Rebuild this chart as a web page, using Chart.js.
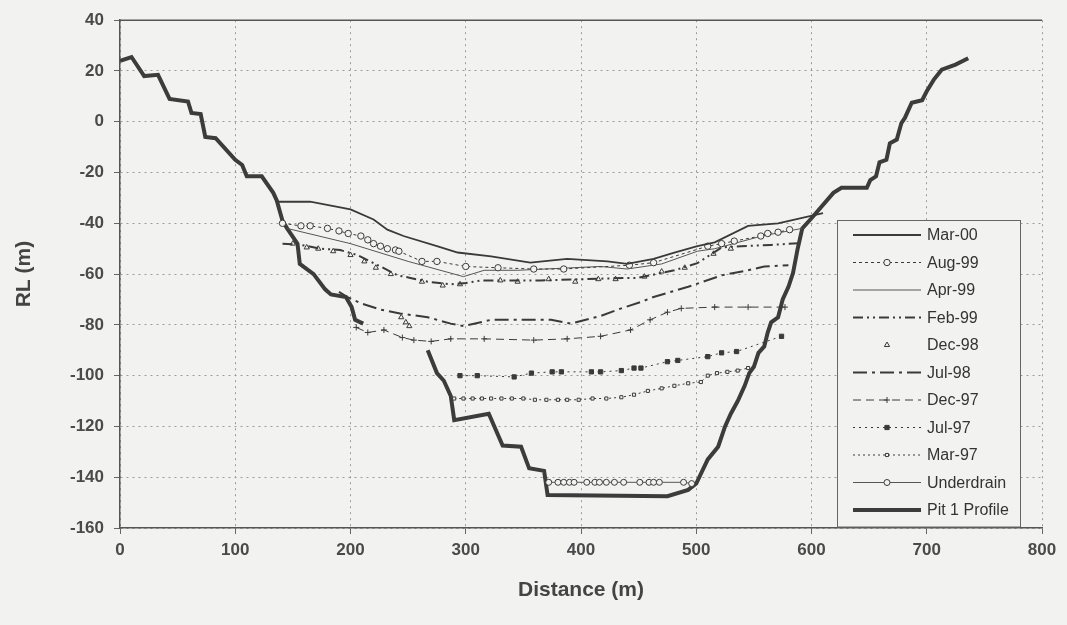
<!DOCTYPE html>
<html>
<head>
<meta charset="utf-8">
<script src="https://cdn.jsdelivr.net/npm/chart.js@4.4.1/dist/chart.umd.min.js"></script>
<style>
  html, body { margin: 0; padding: 0; background: #f2f3f1; }
  #wrap { position: relative; width: 1067px; height: 625px; }
</style>
</head>
<body>
<div id="wrap"><canvas id="pitChart"></canvas></div>
<script>
// [distance (m), RL (m)] pairs for each survey
const mar00 = [[136,-31.5],[165,-31.5],[200,-34.5],[220,-38.5],[232,-42.5],[246,-45],[275,-49],[293,-51.5],[322,-53],[356,-55.5],[388,-54],[423,-55],[440,-56],[463,-54],[481,-51.5],[501,-49],[516,-47.5],[545,-41],[571,-40],[591,-38],[610,-36]];
const aug99 = [[141,-40],[157,-41],[165,-41],[180,-42],[190,-43],[198,-44],[209,-45],[215,-46.5],[220,-48],[226,-49],[232,-50],[239,-50.5],[242,-51],[262,-55],[275,-55],[300,-57],[328,-57.5],[359,-58],[385,-58],[442,-56.5],[463,-55.5],[510,-49],[522,-48],[533,-47],[556,-45],[562,-44],[571,-43.5],[581,-42.5]];
const apr99 = [[145,-42],[200,-48],[250,-55],[298,-61],[316,-58.5],[345,-58.5],[417,-57],[440,-58],[470,-56],[501,-51],[516,-50],[557,-45],[580,-43],[592,-42]];
const feb99 = [[141,-48],[157,-48.5],[174,-50],[191,-50.5],[206,-52.5],[217,-55],[226,-57],[241,-60.5],[252,-61.5],[267,-63],[287,-64],[300,-63.5],[313,-62.5],[365,-62.5],[440,-61.5],[449,-61.5],[481,-58.5],[501,-55.7],[522,-49.5],[539,-49],[565,-48.5],[591,-47.8]];
const dec98 = [[150,-48],[162,-49.5],[172,-50],[185,-51],[200,-52.5],[212,-55],[222,-57.5],[235,-60],[244,-77],[248,-79],[251,-80.5],[262,-63],[280,-64.5],[295,-64],[330,-62.5],[345,-63],[372,-62],[395,-63],[415,-62],[430,-62],[455,-61],[470,-59],[490,-57.5],[515,-52],[530,-50]];
const jul98 = [[190,-67],[197,-69],[209,-71.5],[226,-74],[243,-75.5],[267,-77],[287,-79.5],[298,-80.5],[322,-78],[374,-78],[391,-79.5],[417,-76.5],[435,-73.5],[452,-71],[463,-69],[493,-65],[522,-60.5],[545,-58.5],[559,-57],[580,-56.5]];
const dec97 = [[205,-81],[215,-83],[229,-82],[245,-85],[255,-86],[270,-86.5],[287,-85.5],[316,-85.5],[359,-86],[388,-85.5],[417,-84.5],[443,-82],[460,-78],[475,-75],[487,-73.5],[516,-73],[545,-73],[577,-73]];
const jul97 = [[295,-100],[310,-100],[342,-100.5],[357,-99],[375,-98.5],[383,-98.5],[409,-98.5],[417,-98.5],[435,-98],[446,-97],[452,-97],[475,-94.5],[484,-94],[510,-92.5],[522,-91],[535,-90.5],[574,-84.5]];
const mar97 = [[290,-109],[298,-109],[306,-109],[314,-109],[322,-109],[331,-109],[340,-109],[350,-109],[360,-109.5],[370,-109.5],[380,-109.5],[388,-109.5],[398,-109.5],[410,-109],[422,-109],[435,-108.5],[446,-107.5],[458,-106],[470,-105],[481,-104],[493,-103],[504,-102.5],[510,-100],[518,-99],[527,-98.5],[536,-98],[545,-97]];
const underdrain = [[372,-142],[380,-142],[385,-142],[390,-142],[394,-142],[405,-142],[412,-142],[416,-142],[422,-142],[429,-142],[437,-142],[451,-142],[459,-142],[463,-142],[468,-142],[489,-142],[496,-142.5]];
const pitProfile = [[0,24],[10,25.5],[21,18],[33,18.5],[43,9],[59,8],[62,3.5],[70,3],[74,-6],[83,-6.5],[100,-15],[106,-17],[110,-21.5],[123,-21.5],[133,-28],[136,-31],[141,-39],[145,-42],[154,-48],[156,-56],[168,-60],[178,-66],[183,-68],[196,-69],[201,-73],[204,-78],[211,-79.5],[240,null],[267,-90],[275,-99],[281,-102],[287,-108],[290,-117.5],[320,-115],[332,-127.5],[348,-128],[355,-136.5],[368,-137.5],[371,-147],[475,-147.5],[493,-145],[500,-142.5],[510,-133],[519,-128],[525,-120],[530,-115],[536,-110],[542,-104],[546,-99],[550,-96.5],[554,-91],[559,-88.5],[562,-83],[565,-79],[571,-77],[575,-70],[580,-65],[584,-59.5],[588,-50],[592,-42],[600,-38],[619,-28],[626,-26],[648,-26],[651,-23],[656,-21.5],[659,-16],[665,-15],[668,-8.5],[674,-7],[678,-0.5],[681,1.5],[687,7.5],[696,8.5],[700,12],[706,16.5],[713,20.5],[725,22.5],[736,25]];

const xTicks = [0, 100, 200, 300, 400, 500, 600, 700, 800];
const yTicks = [40, 20, 0, -20, -40, -60, -80, -100, -120, -140, -160];

const BG = '#f2f3f1';
const INK = '#3a3a3a';

const toXY = pts => pts.map(p => ({ x: p[0], y: p[1] }));

function series(label, pts, style) {
    return Object.assign({
        label: label,
        data: toXY(pts),
        borderColor: INK,
        backgroundColor: INK,
        borderWidth: 1,
        pointRadius: 0,
        pointBorderColor: INK,
        pointBackgroundColor: BG,
        pointBorderWidth: 1,
        tension: 0,
        spanGaps: false,
    }, style);
}

const datasets = [
    series('Mar-00', mar00, { borderWidth: 1.8 }),
    series('Aug-99', aug99, { borderDash: [3, 3], pointStyle: 'circle', pointRadius: 3.2 }),
    series('Apr-99', apr99, { borderColor: '#555' }),
    series('Feb-99', feb99, { borderWidth: 2, borderDash: [10, 4, 2, 4, 2, 4] }),
    series('Dec-98', dec98, { showLine: false, pointStyle: 'triangle', pointRadius: 3 }),
    series('Jul-98', jul98, { borderWidth: 2, borderDash: [14, 5, 3, 5] }),
    series('Dec-97', dec97, { borderDash: [8, 5], pointStyle: 'cross', pointRadius: 3 }),
    series('Jul-97', jul97, { borderDash: [2, 4], pointStyle: 'rect', pointRadius: 3, pointBackgroundColor: INK }),
    series('Mar-97', mar97, { borderDash: [2, 3], pointStyle: 'rect', pointRadius: 2.2 }),
    series('Underdrain', underdrain, { borderColor: '#555', pointStyle: 'circle', pointRadius: 3 }),
    series('Pit 1 Profile', pitProfile, { borderWidth: 4, borderColor: '#3c3c3c' }),
];

// boxed legend sitting inside the lower right of the plot
const boxLegend = {
    id: 'boxLegend',
    afterDraw(chart) {
        const ctx = chart.ctx;
        const area = chart.chartArea;
        const left = area.right - 205, right = area.right - 22;
        const top = 220, rowH = 27.5;
        const bottom = top + rowH * datasets.length + 4;
        ctx.save();
        ctx.fillStyle = BG;
        ctx.fillRect(left, top, right - left, bottom - top);
        ctx.strokeStyle = '#666';
        ctx.lineWidth = 1;
        ctx.strokeRect(left + 0.5, top + 0.5, right - left, bottom - top);
        ctx.font = '16px "Liberation Sans", Arial, sans-serif';
        ctx.textBaseline = 'middle';
        chart.data.datasets.forEach((ds, i) => {
            const y = top + 15 + i * rowH;
            const x1 = left + 16, x2 = left + 84;
            if (ds.showLine !== false) {
                ctx.save();
                ctx.strokeStyle = ds.borderColor;
                ctx.lineWidth = ds.borderWidth;
                ctx.setLineDash(ds.borderDash || []);
                ctx.beginPath();
                ctx.moveTo(x1, y);
                ctx.lineTo(x2, y);
                ctx.stroke();
                ctx.restore();
            }
            if (ds.pointRadius > 0) {
                ctx.fillStyle = ds.pointBackgroundColor;
                ctx.strokeStyle = ds.pointBorderColor;
                ctx.lineWidth = ds.pointBorderWidth;
                Chart.helpers.drawPoint(ctx, {
                    pointStyle: ds.pointStyle, rotation: 0,
                    radius: ds.pointRadius, borderWidth: ds.pointBorderWidth
                }, (x1 + x2) / 2, y);
            }
            ctx.fillStyle = '#333';
            ctx.fillText(ds.label, left + 90, y + 1);
        });
        ctx.restore();
    }
};

// solid frame line along the top of the plot
const topFrame = {
    id: 'topFrame',
    beforeDatasetsDraw(chart) {
        const { ctx, chartArea } = chart;
        ctx.save();
        ctx.strokeStyle = '#555';
        ctx.lineWidth = 1.5;
        ctx.beginPath();
        ctx.moveTo(chartArea.left, chartArea.top);
        ctx.lineTo(chartArea.right, chartArea.top);
        ctx.stroke();
        ctx.restore();
    }
};

const tickFont = { family: '"Liberation Sans", Arial, sans-serif', size: 17, weight: 'bold' };
const titleFont = { family: '"Liberation Sans", Arial, sans-serif', size: 21, weight: 'bold' };

new Chart(document.getElementById('pitChart'), {
    type: 'line',
    data: { datasets: datasets },
    plugins: [topFrame, boxLegend],
    options: {
        responsive: true,
        maintainAspectRatio: false,
        animation: false,
        layout: { padding: { top: 20, right: 25, left: 0, bottom: 0 } },
        plugins: {
            legend: { display: false },
            tooltip: { enabled: false },
        },
        scales: {
            x: {
                type: 'linear',
                min: 0,
                max: 800,
                afterFit: (s) => { s.height = 97; },
                afterBuildTicks: (s) => { s.ticks = xTicks.map(v => ({ value: v })); },
                grid: { color: '#9a9a9a', lineWidth: 1, tickLength: 6, tickColor: '#666' },
                border: { display: true, color: '#555', width: 1.5, dash: [2, 4] },
                ticks: { color: '#4a4a4a', font: tickFont, padding: 6, maxRotation: 0 },
                title: { display: true, text: 'Distance (m)', color: '#444', font: titleFont, padding: { top: 0, bottom: 22 } },
            },
            y: {
                type: 'linear',
                min: -160,
                max: 40,
                afterFit: (s) => { s.width = 120; },
                afterBuildTicks: (s) => { s.ticks = yTicks.map(v => ({ value: v })); },
                grid: { color: '#9a9a9a', lineWidth: 1, tickLength: 6, tickColor: '#666' },
                border: { display: true, color: '#555', width: 1.5, dash: [2, 4] },
                ticks: { color: '#4a4a4a', font: tickFont, padding: 10 },
                title: { display: true, text: 'RL (m)', color: '#444', font: titleFont, padding: { top: 12, bottom: 0 } },
            },
        },
    },
});
</script>
</body>
</html>
